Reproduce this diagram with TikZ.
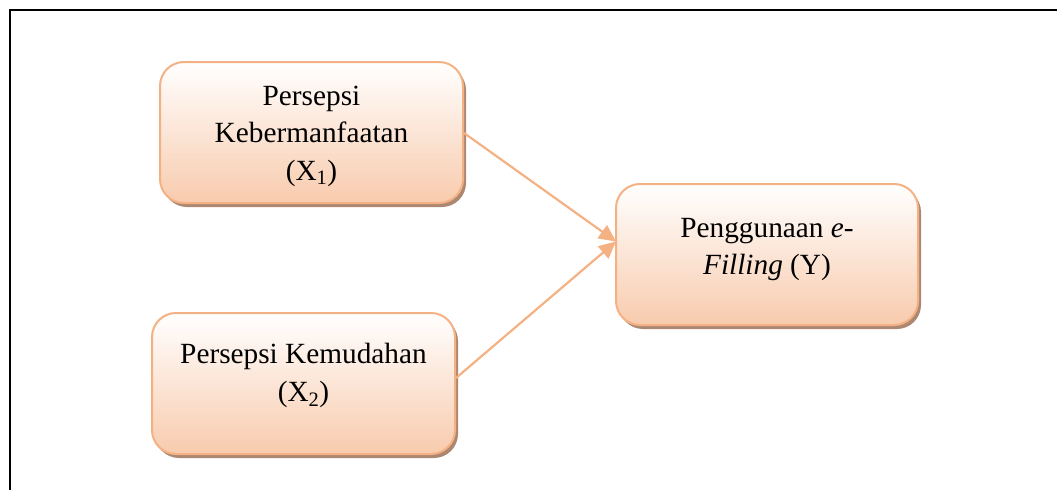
\documentclass[tikz,border=0pt]{standalone}
\usepackage{fontspec}
\setmainfont{Liberation Serif}
\usetikzlibrary{arrows.meta,shadows}
\definecolor{peachline}{RGB}{244,177,131}
\definecolor{peachfill}{RGB}{248,203,173}
\definecolor{shadowc}{RGB}{172,136,114}
\tikzset{
  varbox/.style={draw=peachline, line width=2pt, rounded corners=24pt,
    top color=white, bottom color=peachfill, shading angle=0,
    drop shadow={shadow xshift=3pt, shadow yshift=-4pt, fill=shadowc, opacity=1},
    inner sep=0pt},
  lbl/.style={font=\fontsize{29.3}{37.5}\selectfont, inner sep=0pt, align=center},
  link/.style={draw=peachline, line width=2.2pt, -{Triangle[length=17pt,width=16pt]}}
}
\begin{document}
\begin{tikzpicture}[x=1pt,y=-1pt]
\useasboundingbox (0,0) rectangle (1057,490);
\draw[line width=2pt] (9.5,490) -- (9.5,9.5) -- (1057,9.5);
\node[varbox, minimum width=303pt, minimum height=141pt] (x1) at (311.5,132.5) {};
\node[varbox, minimum width=302pt, minimum height=141pt] (y) at (767,254.5) {};
\node[varbox, minimum width=303pt, minimum height=141pt] (x2) at (303.5,383.5) {};
\node[lbl, anchor=base] (t1a) at (311.5,105) {Persepsi};
\node[lbl, anchor=base] (t1b) at (311.5,142.5) {Kebermanfaatan};
\node[lbl, anchor=base] (t1c) at (311.5,180) {(X\textsubscript{1})};
\node[lbl, anchor=base] (tya) at (767,237) {Penggunaan \textit{e-}};
\node[lbl, anchor=base] (tyb) at (767,274) {\textit{Filling} (Y)};
\node[lbl, anchor=base] (t2a) at (303.5,363) {Persepsi Kemudahan};
\node[lbl, anchor=base] (t2b) at (303.5,401) {(X\textsubscript{2})};
\coordinate (yin) at (616,241.5);
\draw[link] (x1.east |- 0,133) -- (yin);
\draw[link] (x2.east |- 0,378) -- (yin);
\end{tikzpicture}
\end{document}
